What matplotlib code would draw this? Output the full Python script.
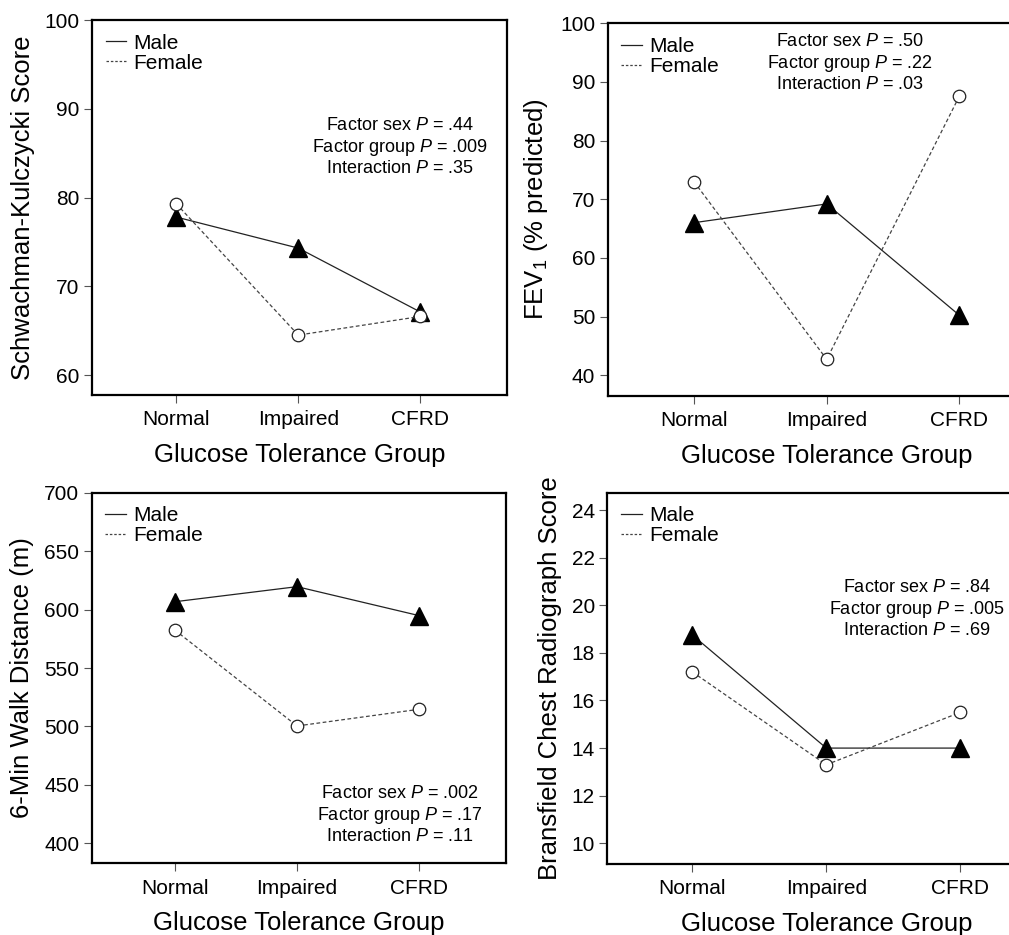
import numpy as np
import matplotlib
matplotlib.use('Agg')
from matplotlib import pyplot as plt
from matplotlib.lines import Line2D

plt.rcParams['font.family'] = ['Liberation Sans', 'DejaVu Sans']
plt.rcParams['mathtext.fontset'] = 'custom'
plt.rcParams['mathtext.rm'] = 'Liberation Sans'
plt.rcParams['mathtext.it'] = 'Liberation Sans:italic'

groups = ['Normal', 'Impaired', 'CFRD']

# Schwachman-Kulczycki score
sk_male = [77.8, 74.3, 67.1]
sk_female = [79.3, 64.5, 66.6]
# FEV1 % predicted
fev_male = [66.0, 69.2, 50.2]
fev_female = [73.0, 42.7, 87.6]
# 6-min walk distance
walk_male = [606.7, 619.6, 594.8]
walk_female = [582.5, 500.4, 514.7]
# Bransfield chest radiograph score
cxr_male = [18.75, 14.0, 14.0]
cxr_female = [17.2, 13.3, 15.5]

panels = [
    dict(male=sk_male, female=sk_female, ylabel='Schwachman-Kulczycki Score',
         ylim=(57.75, 100), yticks=np.arange(60, 101, 10),
         stats=['Factor sex $P$ = .44', 'Factor group $P$ = .009', 'Interaction $P$ = .35'],
         rect=(92, 20, 415, 375), xlim=(-0.69, 2.71), txt=(0.742, 0.661)),
    dict(male=fev_male, female=fev_female, ylabel='FEV$_1$ (% predicted)',
         ylim=(36.5, 100), yticks=np.arange(40, 101, 10),
         stats=['Factor sex $P$ = .50', 'Factor group $P$ = .22', 'Interaction $P$ = .03'],
         rect=(607.7, 23.3, 438, 372.4), xlim=(-0.65, 2.65), txt=(0.553, 0.893)),
    dict(male=walk_male, female=walk_female, ylabel='6-Min Walk Distance (m)',
         ylim=(382.9, 700), yticks=np.arange(400, 701, 50),
         stats=['Factor sex $P$ = .002', 'Factor group $P$ = .17', 'Interaction $P$ = .11'],
         rect=(91.7, 492.7, 414.3, 370.6), xlim=(-0.68, 2.71), txt=(0.744, 0.130)),
    dict(male=cxr_male, female=cxr_female, ylabel='Bransfield Chest Radiograph Score',
         ylim=(9.13, 24.73), yticks=np.arange(10, 25, 2),
         stats=['Factor sex $P$ = .84', 'Factor group $P$ = .005', 'Interaction $P$ = .69'],
         rect=(607.3, 492.7, 438, 371.3), xlim=(-0.635, 2.635), txt=(0.707, 0.687)),
]

W, H = 1009, 935
fig = plt.figure(figsize=(W / 100, H / 100), dpi=100)
x = np.arange(len(groups))

for p in panels:
    l, t, w, h = p['rect']
    ax = fig.add_axes([l / W, 1 - (t + h) / H, w / W, h / H])
    ax.plot(x, p['male'], color='#222222', lw=0.9, marker='^', ms=12.5,
            mfc='black', mec='black', zorder=3)
    ax.plot(x, p['female'], color='#444444', lw=0.9, ls=(0, (3, 2)), marker='o', ms=9,
            mfc='white', mec='#222222', mew=0.9, zorder=4)
    ax.set_xlim(p['xlim'])
    ax.set_ylim(p['ylim'])
    ax.set_yticks(p['yticks'])
    ax.set_xticks(x)
    ax.set_xticklabels(groups)
    ax.tick_params(axis='both', labelsize=15, length=6, width=0.8, color='#555555', pad=3)
    ax.tick_params(axis='x', pad=5)
    for s in ax.spines.values():
        s.set_linewidth(1.6)
    ax.set_xlabel('Glucose Tolerance Group', fontsize=18.5, labelpad=10)
    ax.set_ylabel(p['ylabel'], fontsize=18.5, labelpad=7)
    handles = [Line2D([], [], color='#222222', lw=0.9),
               Line2D([], [], color='#444444', lw=0.9, ls=(0, (2, 1.5)))]
    ax.legend(handles, ['Male', 'Female'], loc='upper left', frameon=False,
              fontsize=15, handlelength=1.0, handletextpad=0.35,
              labelspacing=0.05, borderaxespad=0.45, borderpad=0.2)
    ax.text(p['txt'][0], p['txt'][1], '\n'.join(p['stats']), transform=ax.transAxes,
            ha='center', va='center', multialignment='center', fontsize=13,
            linespacing=1.2)

plt.savefig('out.png', dpi=100)
